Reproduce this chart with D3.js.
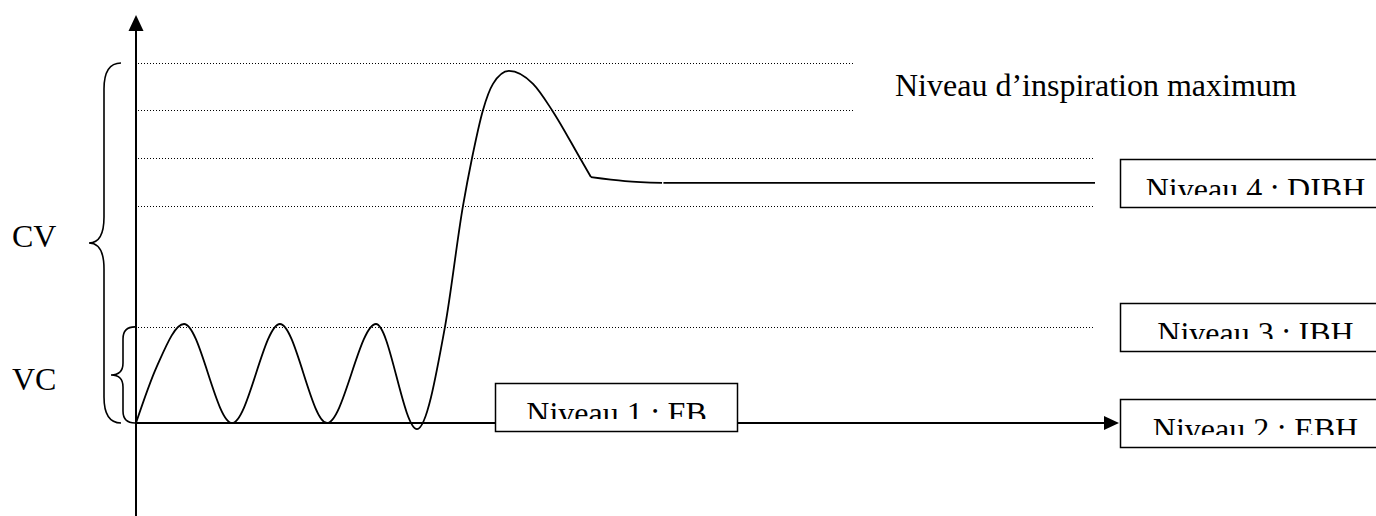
<!DOCTYPE html>
<html>
<head>
<meta charset="utf-8">
<script src="https://cdn.jsdelivr.net/npm/d3@7"></script>
<style>
  html, body { margin: 0; padding: 0; background: #fff; }
  svg { display: block; }
  text { font-family: "Liberation Serif", "Times New Roman", serif; fill: #000; }
</style>
</head>
<body>
<svg id="chart" width="1376" height="516"></svg>
<script>
// ---- data (time units 0..100, volume units 0..100) ----
const breathT = [0, 2.1, 4.88, 9.76, 14.63, 19.41, 24.39, 28.56, 31.4, 33.23, 34.15, 35.26, 36.28, 37.9, 40.35, 42.28, 45.12, 46.24];
const breathV = [0, 15.6, 27.5, 0, 27.5, 0, 27.5, -1.7, 26.7, 60.3, 73.6, 86.9, 94.2, 97.8, 94.2, 86.9, 73.6, 68.3];
const settleT = [46.24, 49.7, 53.46];
const settleV = [68.3, 67.2, 66.7];
const plateauT = [53.6, 97.46];
const plateauV = [66.7, 66.7];

const levelV = [100, 86.9, 73.6, 60.3, 26.7];
const levelStart = [0.2, 0.2, 0.2, 0.2, 0.2];
const levelEnd = [73.07, 73.07, 97.46, 97.46, 97.46];

const boxLabels = ["Niveau 1 : FB", "Niveau 2 : EBH", "Niveau 3 : IBH", "Niveau 4 : DIBH"];
const boxT = [36.48, 100, 100, 100];
const boxV = [4.4, 0, 26.7, 66.7];

const braceLabels = ["CV", "VC"];
const braceFrom = [0, 0];
const braceTo = [100, 26.7];

const maxLabel = "Niveau d\u2019inspiration maximum";

// ---- scales ----
const x = d3.scaleLinear().domain([0, 100]).range([136, 1120]);
const y = d3.scaleLinear().domain([0, 100]).range([423, 63]);

const svg = d3.select("#chart");
svg.append("rect").attr("width", 1376).attr("height", 516).attr("fill", "#fff");

const defs = svg.append("defs");

// ---- dotted level lines ----
svg.append("g").selectAll("line").data(levelV).join("line")
  .attr("x1", (d, i) => Math.round(x(levelStart[i])))
  .attr("x2", (d, i) => Math.round(x(levelEnd[i])))
  .attr("y1", d => Math.round(y(d)) + 0.5)
  .attr("y2", d => Math.round(y(d)) + 0.5)
  .attr("stroke", "#000")
  .attr("stroke-width", 1)
  .attr("shape-rendering", "crispEdges")
  .attr("stroke-dasharray", "1,2");

// ---- axes ----
const axisW = 2;
const x0 = x(0), y0 = y(0);
// vertical axis
svg.append("line").attr("x1", x0).attr("x2", x0).attr("y1", 520).attr("y2", 30)
  .attr("stroke", "#000").attr("stroke-width", axisW);
svg.append("path")
  .attr("d", `M${x0},15 L${x0 - 7.5},31 L${x0 + 7.5},31 Z`).attr("fill", "#000");
// horizontal axis
const xEnd = x(100);
svg.append("line").attr("x1", x0).attr("x2", xEnd - 15).attr("y1", y0).attr("y2", y0)
  .attr("stroke", "#000").attr("stroke-width", axisW);
svg.append("path")
  .attr("d", `M${xEnd - 1},${y0} L${xEnd - 16},${y0 - 7} L${xEnd - 16},${y0 + 7} Z`).attr("fill", "#000");

// ---- breathing curve ----
const lineGen = d3.line().x(d => x(d[0])).y(d => y(d[1])).curve(d3.curveMonotoneX);
const curveStyle = sel => sel.attr("fill", "none").attr("stroke", "#000").attr("stroke-width", 1.8)
  .attr("stroke-linejoin", "round").attr("stroke-linecap", "butt");

svg.append("path").datum(breathT.map((t, i) => [t, breathV[i]])).attr("d", lineGen).call(curveStyle);
svg.append("path").datum(settleT.map((t, i) => [t, settleV[i]])).attr("d", lineGen).call(curveStyle);
svg.append("path").datum(plateauT.map((t, i) => [t, plateauV[i]]))
  .attr("d", d3.line().x(d => x(d[0])).y(d => y(d[1]))).call(curveStyle);

// ---- braces ----
function bracePath(xTip, xMid, xEndB, yTop, yBot, r) {
  const ym = (yTop + yBot) / 2;
  return `M${xEndB},${yTop} Q${xMid},${yTop} ${xMid},${yTop + r} ` +
         `L${xMid},${ym - r} Q${xMid},${ym} ${xTip},${ym} ` +
         `Q${xMid},${ym} ${xMid},${ym + r} ` +
         `L${xMid},${yBot - r} Q${xMid},${yBot} ${xEndB},${yBot}`;
}
const braceGeo = [
  { tip: 89, mid: 104, end: 121, r: 26 },
  { tip: 111, mid: 123, end: 135, r: 12 }
];
svg.append("g").selectAll("path").data(braceLabels).join("path")
  .attr("d", (d, i) => bracePath(braceGeo[i].tip, braceGeo[i].mid, braceGeo[i].end,
      y(braceTo[i]), y(braceFrom[i]), braceGeo[i].r))
  .attr("fill", "none").attr("stroke", "#000").attr("stroke-width", 1.6);

svg.append("g").selectAll("text").data(braceLabels).join("text")
  .attr("x", 12)
  .attr("y", (d, i) => i === 0 ? 247 : 390)
  .attr("font-size", 32)
  .text(d => d);

// ---- maximum label ----
svg.append("text").attr("x", 895).attr("y", 96).attr("font-size", 32).text(maxLabel);

// ---- level boxes ----
const boxH = 48;
const boxW = [242, 270, 270, 270];
const boxes = svg.append("g").selectAll("g").data(boxLabels).join("g");
boxes.each(function (d, i) {
  const g = d3.select(this);
  const bx = Math.round(x(boxT[i])) + 0.5;
  const by = Math.round(y(boxV[i]) - boxH / 2) + 0.5;
  g.append("rect").attr("x", bx).attr("y", by).attr("width", boxW[i]).attr("height", boxH)
    .attr("fill", "#fff").attr("stroke", "#000").attr("stroke-width", 1.5);
  const cid = "clipbox" + i;
  defs.append("clipPath").attr("id", cid).append("rect")
    .attr("x", bx).attr("y", by).attr("width", boxW[i]).attr("height", boxH - 12.5);
  g.append("text")
    .attr("clip-path", `url(#${cid})`)
    .attr("x", bx + boxW[i] / 2).attr("y", by + 40)
    .attr("text-anchor", "middle").attr("font-size", 32)
    .text(d);
});
</script>
</body>
</html>
